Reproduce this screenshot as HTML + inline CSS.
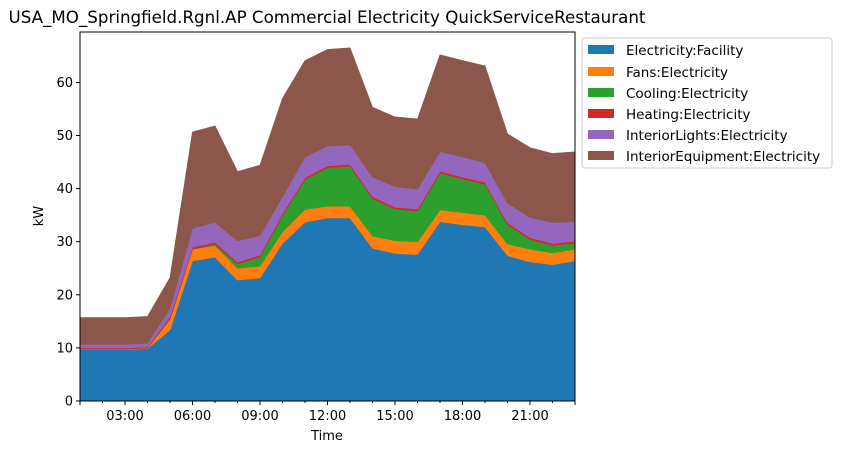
<!DOCTYPE html>
<html><head><meta charset="utf-8"><style>
body{margin:0;background:#fff;font-family:"Liberation Sans","DejaVu Sans",sans-serif}
svg text{font-family:"DejaVu Sans","Liberation Sans",sans-serif}
</style></head><body>
<svg id="chart" width="841" height="452" viewBox="0 0 841 452"></svg>
<script>
const hours=[1,2,3,4,5,6,7,8,9,10,11,12,13,14,15,16,17,18,19,20,21,22,23];
const seriesNames=["Electricity:Facility","Fans:Electricity","Cooling:Electricity","Heating:Electricity","InteriorLights:Electricity","InteriorEquipment:Electricity"];
const seriesColors=["#1f77b4","#ff7f0e","#2ca02c","#d62728","#9467bd","#8c564b"];
const facility=[9.7,9.7,9.7,9.9,13.4,26.4,27.1,22.8,23.2,29.7,33.7,34.5,34.5,28.8,27.8,27.6,33.8,33.2,32.8,27.4,26.2,25.7,26.4];
const fans=[0.1,0.1,0.1,0.1,2.0,2.2,2.2,2.2,2.2,2.2,2.4,2.2,2.2,2.3,2.4,2.4,2.2,2.3,2.2,2.2,2.4,2.2,2.2];
const cooling=[0,0,0,0,0.1,0,0.25,0.85,1.75,3.05,5.65,7.25,7.55,7.05,5.95,5.85,6.95,6.35,5.85,3.65,1.85,1.45,1.15];
const heating=[0.2,0.2,0.2,0.2,0.4,0.35,0.35,0.35,0.35,0.35,0.35,0.35,0.35,0.35,0.35,0.35,0.35,0.35,0.35,0.35,0.35,0.35,0.35];
const lights=[0.7,0.7,0.7,0.7,1.6,3.6,3.8,4.0,3.7,3.2,3.9,3.7,3.7,3.7,3.9,3.7,3.7,3.8,3.7,3.7,3.8,3.9,3.7];
const equipment=[5.0,5.0,5.0,5.0,5.7,18.1,18.1,13.0,13.2,18.5,18.1,18.2,18.2,13.1,13.1,13.2,18.2,18.1,18.2,13.0,13.1,13.0,13.1];
const yTicks=[0,10,20,30,40,50,60];
const xTicks=[3,6,9,12,15,18,21];
const xTickLabels=["03:00","06:00","09:00","12:00","15:00","18:00","21:00"];

const NS="http://www.w3.org/2000/svg";
const svg=document.getElementById("chart");
const L=80,R=575,T=32,B=401,YMAX=69.5,XMIN=1,XMAX=23;
const xs=v=>L+(v-XMIN)/(XMAX-XMIN)*(R-L);
const ys=v=>B-v/YMAX*(B-T);
function mk(tag,attrs,parent){const e=document.createElementNS(NS,tag);for(const k in attrs)e.setAttribute(k,attrs[k]);(parent||svg).appendChild(e);return e;}

const all=[facility,fans,cooling,heating,lights,equipment];
const areaNames=["area-facility","area-fans","area-cooling","area-heating","area-interior-lights","area-interior-equipment"];
let base=hours.map(()=>0);
all.forEach((s,si)=>{
  const top=base.map((b,i)=>b+s[i]);
  let d="M"+hours.map((h,i)=>xs(h)+","+ys(top[i])).join("L");
  for(let i=hours.length-1;i>=0;i--)d+="L"+xs(hours[i])+","+ys(base[i]);
  d+="Z";
  const p=mk("path",{d:d,fill:seriesColors[si],stroke:seriesColors[si],"stroke-width":"0.8"});
  
  
  base=top;
});

const frame=mk("rect",{x:L,y:T,width:R-L,height:B-T,fill:"none",stroke:"#000","stroke-width":"1"});



yTicks.forEach(v=>{
  const y=ys(v);
  const t=mk("line",{x1:L-4,x2:L,y1:y,y2:y,stroke:"#000"});
  
  
  const tx=mk("text",{x:L-7,y:y+4.5,"text-anchor":"end","font-size":"13"});
  tx.textContent=v;
  
  
});
for(let h=XMIN;h<=XMAX;h++){
  const major=xTicks.indexOf(h)>=0||h===XMIN||h===XMAX;
  const t=mk("line",{x1:xs(h),x2:xs(h),y1:B,y2:B+(major?4:2),stroke:"#000"});
  
  
}
xTicks.forEach((h,i)=>{
  const tx=mk("text",{x:xs(h),y:B+19,"text-anchor":"middle","font-size":"13"});
  tx.textContent=xTickLabels[i];
  
  
});
</script>
<div style="position:absolute;left:0;top:0;width:841px;height:452px;pointer-events:none">
<svg width="841" height="452" style="position:absolute;left:0;top:0">
<text x="327" y="23" text-anchor="middle" font-size="16.7" font-family="DejaVu Sans, Liberation Sans, sans-serif">USA_MO_Springfield.Rgnl.AP Commercial Electricity QuickServiceRestaurant</text>
<text x="327" y="440" text-anchor="middle" font-size="13" font-family="DejaVu Sans, Liberation Sans, sans-serif">Time</text>
<text x="0" y="0" transform="translate(43,216) rotate(-90)" text-anchor="middle" font-size="13" font-family="DejaVu Sans, Liberation Sans, sans-serif">kW</text>
<g font-size="13.5" font-family="DejaVu Sans, Liberation Sans, sans-serif">
<rect x="582" y="38" width="250" height="130" rx="3" fill="#fff" stroke="#ccc"/>
<rect x="588" y="45" width="26" height="9" fill="#1f77b4"/>
<text x="626" y="55">Electricity:Facility</text>
<rect x="588" y="67" width="26" height="9" fill="#ff7f0e"/>
<text x="626" y="77">Fans:Electricity</text>
<rect x="588" y="88" width="26" height="9" fill="#2ca02c"/>
<text x="626" y="98">Cooling:Electricity</text>
<rect x="588" y="109" width="26" height="9" fill="#d62728"/>
<text x="626" y="119">Heating:Electricity</text>
<rect x="588" y="130" width="26" height="9" fill="#9467bd"/>
<text x="626" y="140">InteriorLights:Electricity</text>
<rect x="588" y="151" width="26" height="9" fill="#8c564b"/>
<text x="626" y="161">InteriorEquipment:Electricity</text>
</g>
</svg>
</div>
</body></html>
